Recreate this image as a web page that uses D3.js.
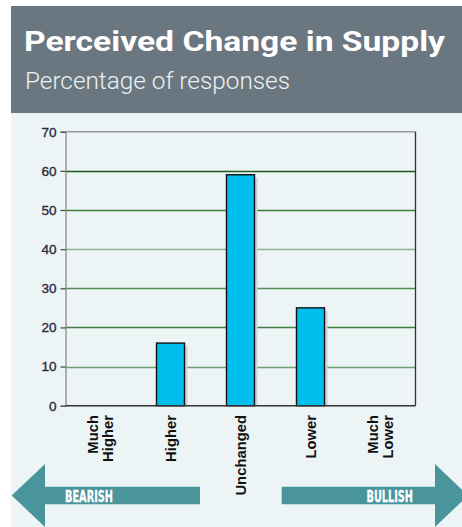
<!DOCTYPE html>
<html>
<head>
<meta charset="utf-8">
<script src="https://cdn.jsdelivr.net/npm/d3@7"></script>
<style>
  html, body { margin: 0; padding: 0; background: #ffffff; }
  svg { display: block; }
</style>
</head>
<body>
<svg id="chart" width="462" height="527"></svg>
<script>
// Survey responses: perceived change in supply
const categories = [["Much", "Higher"], ["Higher"], ["Unchanged"], ["Lower"], ["Much", "Lower"]];
const values = [0, 16, 59, 25, 0];
const yTicks = [0, 10, 20, 30, 40, 50, 60, 70];
const title = "Perceived Change in Supply";
const subtitle = "Percentage of responses";
const arrowLabels = ["BEARISH", "BULLISH"];

// Gridline shades (drawn at 10..60)
const gridColors = { 10: "#6c9f6c", 20: "#3f7f3f", 30: "#528e52", 40: "#8db58d", 50: "#3e7b3e", 60: "#1c5a1c" };

const svg = d3.select("#chart");

// Header band
svg.append("rect").attr("x", 11).attr("y", 6).attr("width", 451).attr("height", 107).attr("fill", "#6b7780");
svg.append("text").attr("x", 24).attr("y", 51)
  .attr("font-family", "Roboto, 'Liberation Sans', sans-serif")
  .attr("font-weight", 700).attr("font-size", 28.5).attr("fill", "#ffffff")
  .attr("textLength", 421).attr("lengthAdjust", "spacingAndGlyphs")
  .text(title);
svg.append("text").attr("x", 25).attr("y", 89)
  .attr("font-family", "Roboto, 'Liberation Sans', sans-serif")
  .attr("font-weight", 300).attr("font-size", 24).attr("fill", "#eef1f3")
  .attr("textLength", 265).attr("lengthAdjust", "spacingAndGlyphs")
  .text(subtitle);

// Light panel behind the chart
svg.append("rect").attr("x", 11).attr("y", 113).attr("width", 451).attr("height", 414).attr("fill", "#edf4f6");

const plot = { left: 65.5, right: 415.5, top: 131.7, bottom: 405.7 };

const x = d3.scaleBand()
  .domain(categories.map(d => d.join(" ")))
  .range([plot.left, plot.right])
  .paddingInner(0.6).paddingOuter(0.3);

const y = d3.scaleLinear().domain([0, 70]).range([plot.bottom, plot.top]);

const g = svg.append("g");

// Horizontal gridlines
g.selectAll("line.grid")
  .data(yTicks.filter(t => t > 0 && t < 70))
  .join("line")
  .attr("class", "grid")
  .attr("x1", plot.left).attr("x2", plot.right)
  .attr("y1", d => Math.round(y(d)) + 0.5).attr("y2", d => Math.round(y(d)) + 0.5)
  .attr("stroke", d => gridColors[d]).attr("stroke-width", 1.3);

// Top frame line
g.append("line")
  .attr("x1", plot.left).attr("x2", plot.right)
  .attr("y1", y(70)).attr("y2", y(70))
  .attr("stroke", "#9a9a9a").attr("stroke-width", 1.5);

// Right frame line
g.append("line")
  .attr("x1", plot.right).attr("x2", plot.right)
  .attr("y1", y(70)).attr("y2", y(0))
  .attr("stroke", "#333333").attr("stroke-width", 1.3);

// Bars with a soft offset shadow
const bars = categories.map((c, i) => ({ key: c.join(" "), value: values[i] })).filter(d => d.value > 0);
g.selectAll("rect.shadow")
  .data(bars)
  .join("rect")
  .attr("class", "shadow")
  .attr("x", d => x(d.key) + 3)
  .attr("y", d => y(d.value) + 3)
  .attr("width", x.bandwidth())
  .attr("height", d => y(0) - y(d.value) - 3)
  .attr("fill", "#cdd3d6");
g.selectAll("rect.bar")
  .data(bars)
  .join("rect")
  .attr("class", "bar")
  .attr("x", d => x(d.key))
  .attr("y", d => y(d.value))
  .attr("width", x.bandwidth())
  .attr("height", d => y(0) - y(d.value))
  .attr("fill", "#00bfee")
  .attr("stroke", "#111111").attr("stroke-width", 1.4);

// Left axis
const yAxis = g.append("g")
  .attr("transform", `translate(${plot.left},0)`)
  .call(d3.axisLeft(y).tickValues(yTicks).tickSize(5).tickPadding(4));
yAxis.select(".domain").attr("stroke", "#8a8a8a").attr("stroke-width", 1.3);
yAxis.selectAll(".tick line").attr("stroke", "#444444").attr("stroke-width", 1.2);
yAxis.selectAll(".tick text")
  .attr("font-family", "'Liberation Sans', Arial, sans-serif")
  .attr("font-size", 13.5).attr("fill", "#2a2a3c")
  .attr("stroke", "#2a2a3c").attr("stroke-width", 0.35);

// Bottom axis line
g.append("line")
  .attr("x1", plot.left).attr("x2", plot.right)
  .attr("y1", y(0)).attr("y2", y(0))
  .attr("stroke", "#333333").attr("stroke-width", 1.4);

// Rotated category labels
const catG = g.selectAll("g.cat")
  .data(categories)
  .join("g")
  .attr("class", "cat")
  .attr("transform", d => `translate(${x(d.join(" ")) + x.bandwidth() / 2},415) rotate(-90)`);
catG.each(function (lines) {
  const n = lines.length;
  d3.select(this).selectAll("text")
    .data(lines)
    .join("text")
    .attr("x", 0)
    .attr("y", (d, i) => 5 + (i - (n - 1) / 2) * 15)
    .attr("text-anchor", "end")
    .attr("font-family", "'Liberation Sans', Arial, sans-serif")
    .attr("font-weight", 700).attr("font-size", 14.8)
    .attr("fill", "#111111")
    .text(d => d);
});

// Bearish / bullish direction arrows
const arrowColor = "#4a949c";
const leftArrow = [[11.7, 495.5], [45, 464], [45, 486.7], [200, 486.7], [200, 504.3], [45, 504.3], [45, 527]];
const rightArrow = [[281.7, 486.7], [435, 486.7], [435, 464], [468, 495.5], [435, 527], [435, 504.3], [281.7, 504.3]];
svg.append("path").attr("d", d3.line()(leftArrow) + "Z").attr("fill", arrowColor);
svg.append("path").attr("d", d3.line()(rightArrow) + "Z").attr("fill", arrowColor);

const arrowText = [{ t: arrowLabels[0], x: 65, w: 48 }, { t: arrowLabels[1], x: 366.5, w: 46.5 }];
svg.selectAll("text.arrow")
  .data(arrowText)
  .join("text")
  .attr("class", "arrow")
  .attr("x", d => d.x).attr("y", 501.8)
  .attr("font-family", "'Liberation Sans Narrow', 'DejaVu Sans Condensed', Arial, sans-serif")
  .attr("font-weight", 700).attr("font-size", 15.5)
  .attr("textLength", d => d.w).attr("lengthAdjust", "spacingAndGlyphs")
  .attr("fill", "#ffffff").attr("stroke", "#ffffff").attr("stroke-width", 0.3)
  .text(d => d.t);
</script>
</body>
</html>
